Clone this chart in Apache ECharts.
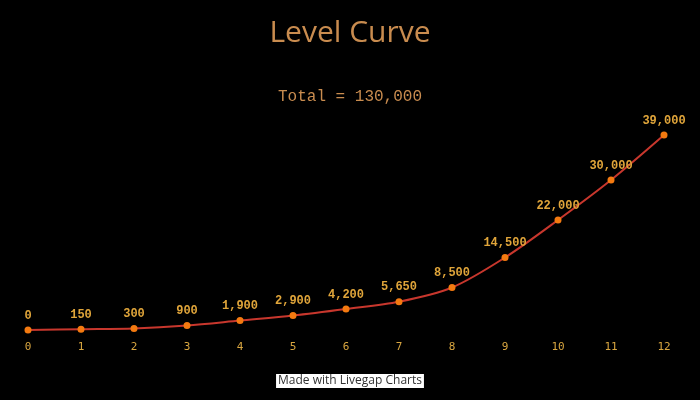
<!DOCTYPE html>
<html><head><meta charset="utf-8">
<script src="https://cdn.jsdelivr.net/npm/echarts@6/dist/echarts.min.js"></script>
<style>html,body{margin:0;padding:0;background:#000;}#c{width:700px;height:400px;}</style>
</head><body><div id="c"></div>
<script>
const categories = ['0','1','2','3','4','5','6','7','8','9','10','11','12'];
const levelValues = [0,150,300,900,1900,2900,4200,5650,8500,14500,22000,30000,39000];
const titleText = 'Level Curve';
const subtitleText = 'Total = 130,000';
const footerText = 'Made with Livegap Charts';

const chart = echarts.init(document.getElementById('c'));
chart.setOption({
  backgroundColor: '#000',
  animation: false,
  title: [{
    text: titleText, left: 'center', top: 13,
    textStyle: {color: '#c98c4f', fontSize: 30, fontWeight: 'normal', fontFamily: 'Open Sans'}
  },{
    text: subtitleText, left: 'center', top: 84,
    textStyle: {color: '#c98c4f', fontSize: 16, fontWeight: 'normal', fontFamily: 'Liberation Mono'}
  }],
  graphic: [{
    type: 'text', left: 'center', top: 374,
    style: {text: footerText, fill: '#333', font: '12px "Open Sans"', backgroundColor: '#fff', padding: [1,2,1,2]}
  }],
  grid: {left: 28, right: 36, top: 130, bottom: 70},
  xAxis: {
    type: 'category', data: categories, boundaryGap: false,
    axisLine: {show: false}, axisTick: {show: false}, splitLine: {show: false},
    axisLabel: {color: '#d9a640', fontSize: 11, fontFamily: 'DejaVu Sans Mono', margin: 12}
  },
  yAxis: {
    type: 'value', min: 0, max: 40000, show: false, splitLine: {show: false}
  },
  series: [{
    type: 'line', data: levelValues, smooth: 0.3,
    symbol: 'circle', symbolSize: 7,
    lineStyle: {color: '#c8372d', width: 2},
    itemStyle: {color: '#f47a10'},
    label: {
      show: true, position: 'top', distance: 5,
      color: '#e0a53a', fontSize: 12, fontWeight: 'bold', fontFamily: 'Liberation Mono',
      formatter: p => p.value.toLocaleString('en-US')
    }
  }]
});
</script></body></html>
